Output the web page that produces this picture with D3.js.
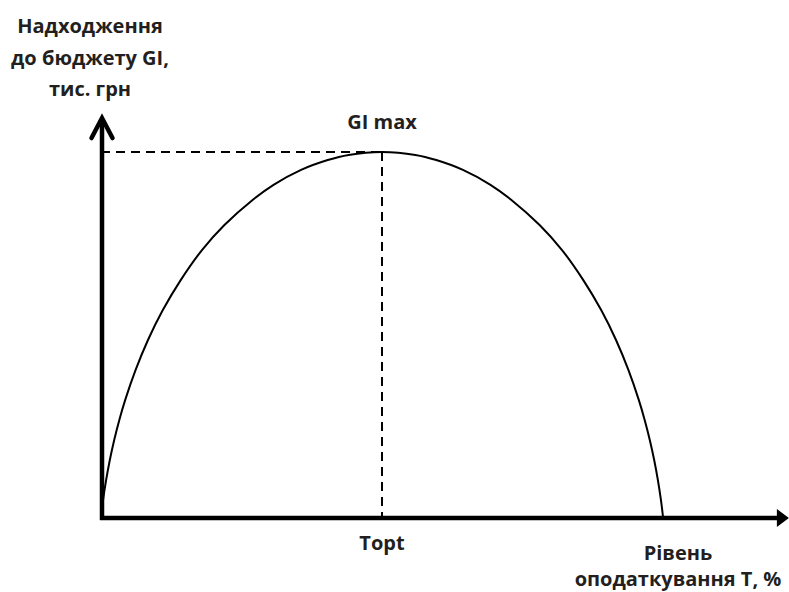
<!DOCTYPE html>
<html>
<head>
<meta charset="utf-8">
<script src="https://cdn.jsdelivr.net/npm/d3@7"></script>
<style>
  html, body { margin: 0; padding: 0; background: #fff; }
  svg { display: block; }
  text { font-family: "Open Sans", "Noto Sans", sans-serif; font-weight: 700; fill: #231f20; }
</style>
</head>
<body>
<svg id="chart" width="789" height="592"></svg>
<script>
// ---- data (T = tax rate, GI = budget revenue, schematic units) ----
const taxRate = [0, 0.14, 0.37, 0.91, 1.57, 2.35, 3.26, 4.31, 6.16, 8.36, 11.0, 14.18, 18.0, 21.96, 26.92, 30.7, 35.6, 40.35, 44.06, 50,
                 55.94, 59.65, 64.4, 69.3, 73.08, 78.04, 82.0, 85.82, 89.0, 91.64, 93.84, 95.69, 96.74, 97.65, 98.43, 99.09, 99.63, 99.86, 100];
const revenue = [0, 1.9, 4.7, 10.1, 15.6, 21.1, 26.6, 32.1, 40.3, 48.5, 56.7, 64.9, 73.2, 80.0, 86.8, 91.0, 95.1, 97.8, 99.2, 100,
                 99.2, 97.8, 95.1, 91.0, 86.8, 80.0, 73.2, 64.9, 56.7, 48.5, 40.3, 32.1, 26.6, 21.1, 15.6, 10.1, 4.7, 1.9, 0];
const tOpt = [50];
const giMax = [100];
const xAxisMax = [122.4];
const yAxisMax = [109.3];
const yTitleLines = ["Надходження", "до бюджету GI,", "тис. грн"];
const xTitleLines = ["Рівень", "оподаткування T, %"];
const peakLabel = ["GI max"];
const optLabel = ["Topt"];

const svg = d3.select("#chart");
const x = d3.scaleLinear().domain([0, 100]).range([101, 663]);
const y = d3.scaleLinear().domain([0, 100]).range([517, 152]);

const ink = "#000";

// dashed guide lines
svg.append("line")
  .attr("x1", x(0)).attr("y1", y(giMax[0]))
  .attr("x2", x(tOpt[0])).attr("y2", y(giMax[0]))
  .attr("stroke", ink).attr("stroke-width", 2).attr("stroke-dasharray", "9,6");
svg.append("line")
  .attr("x1", x(tOpt[0])).attr("y1", y(giMax[0]))
  .attr("x2", x(tOpt[0])).attr("y2", y(0))
  .attr("stroke", ink).attr("stroke-width", 2).attr("stroke-dasharray", "9,6");

// curve
const pts = taxRate.map((t, i) => [t, revenue[i]]);
const line = d3.line().x(d => x(d[0])).y(d => y(d[1])).curve(d3.curveCatmullRom.alpha(0.5));
svg.append("path").datum(pts)
  .attr("d", line)
  .attr("fill", "none").attr("stroke", ink).attr("stroke-width", 2);

// vertical axis with open arrowhead
const yTop = y(yAxisMax[0]);
svg.append("line")
  .attr("x1", x(0) + 1).attr("y1", y(0) + 3)
  .attr("x2", x(0) + 1).attr("y2", yTop + 2)
  .attr("stroke", ink).attr("stroke-width", 4.5);
svg.append("path")
  .attr("d", `M${x(0) - 9.5},${yTop + 20} L${x(0) + 1},${yTop} L${x(0) + 11.5},${yTop + 20}`)
  .attr("fill", "none").attr("stroke", ink).attr("stroke-width", 4.5)
  .attr("stroke-linecap", "round").attr("stroke-linejoin", "miter");

// horizontal axis with solid arrowhead
const xEnd = x(xAxisMax[0]);
svg.append("line")
  .attr("x1", x(0) - 1).attr("y1", y(0) + 1)
  .attr("x2", xEnd - 10).attr("y2", y(0) + 1)
  .attr("stroke", ink).attr("stroke-width", 4.5);
svg.append("path")
  .attr("d", `M${xEnd - 12},${y(0) - 8} L${xEnd},${y(0) + 1} L${xEnd - 12},${y(0) + 10} Z`)
  .attr("fill", ink);

// labels
const yt = svg.append("text").attr("text-anchor", "middle").attr("font-size", 20);
yTitleLines.forEach((s, i) => {
  yt.append("tspan").attr("x", 90).attr("y", 33 + i * 31.7).text(s);
});
const xt = svg.append("text").attr("text-anchor", "middle").attr("font-size", 20);
xTitleLines.forEach((s, i) => {
  xt.append("tspan").attr("x", 678).attr("y", 560 + i * 26).text(s);
});
svg.append("text").attr("text-anchor", "middle").attr("font-size", 20)
  .attr("x", x(tOpt[0])).attr("y", 129).text(peakLabel[0]);
svg.append("text").attr("text-anchor", "middle").attr("font-size", 20)
  .attr("x", x(tOpt[0])).attr("y", 550).text(optLabel[0]);
</script>
</body>
</html>
